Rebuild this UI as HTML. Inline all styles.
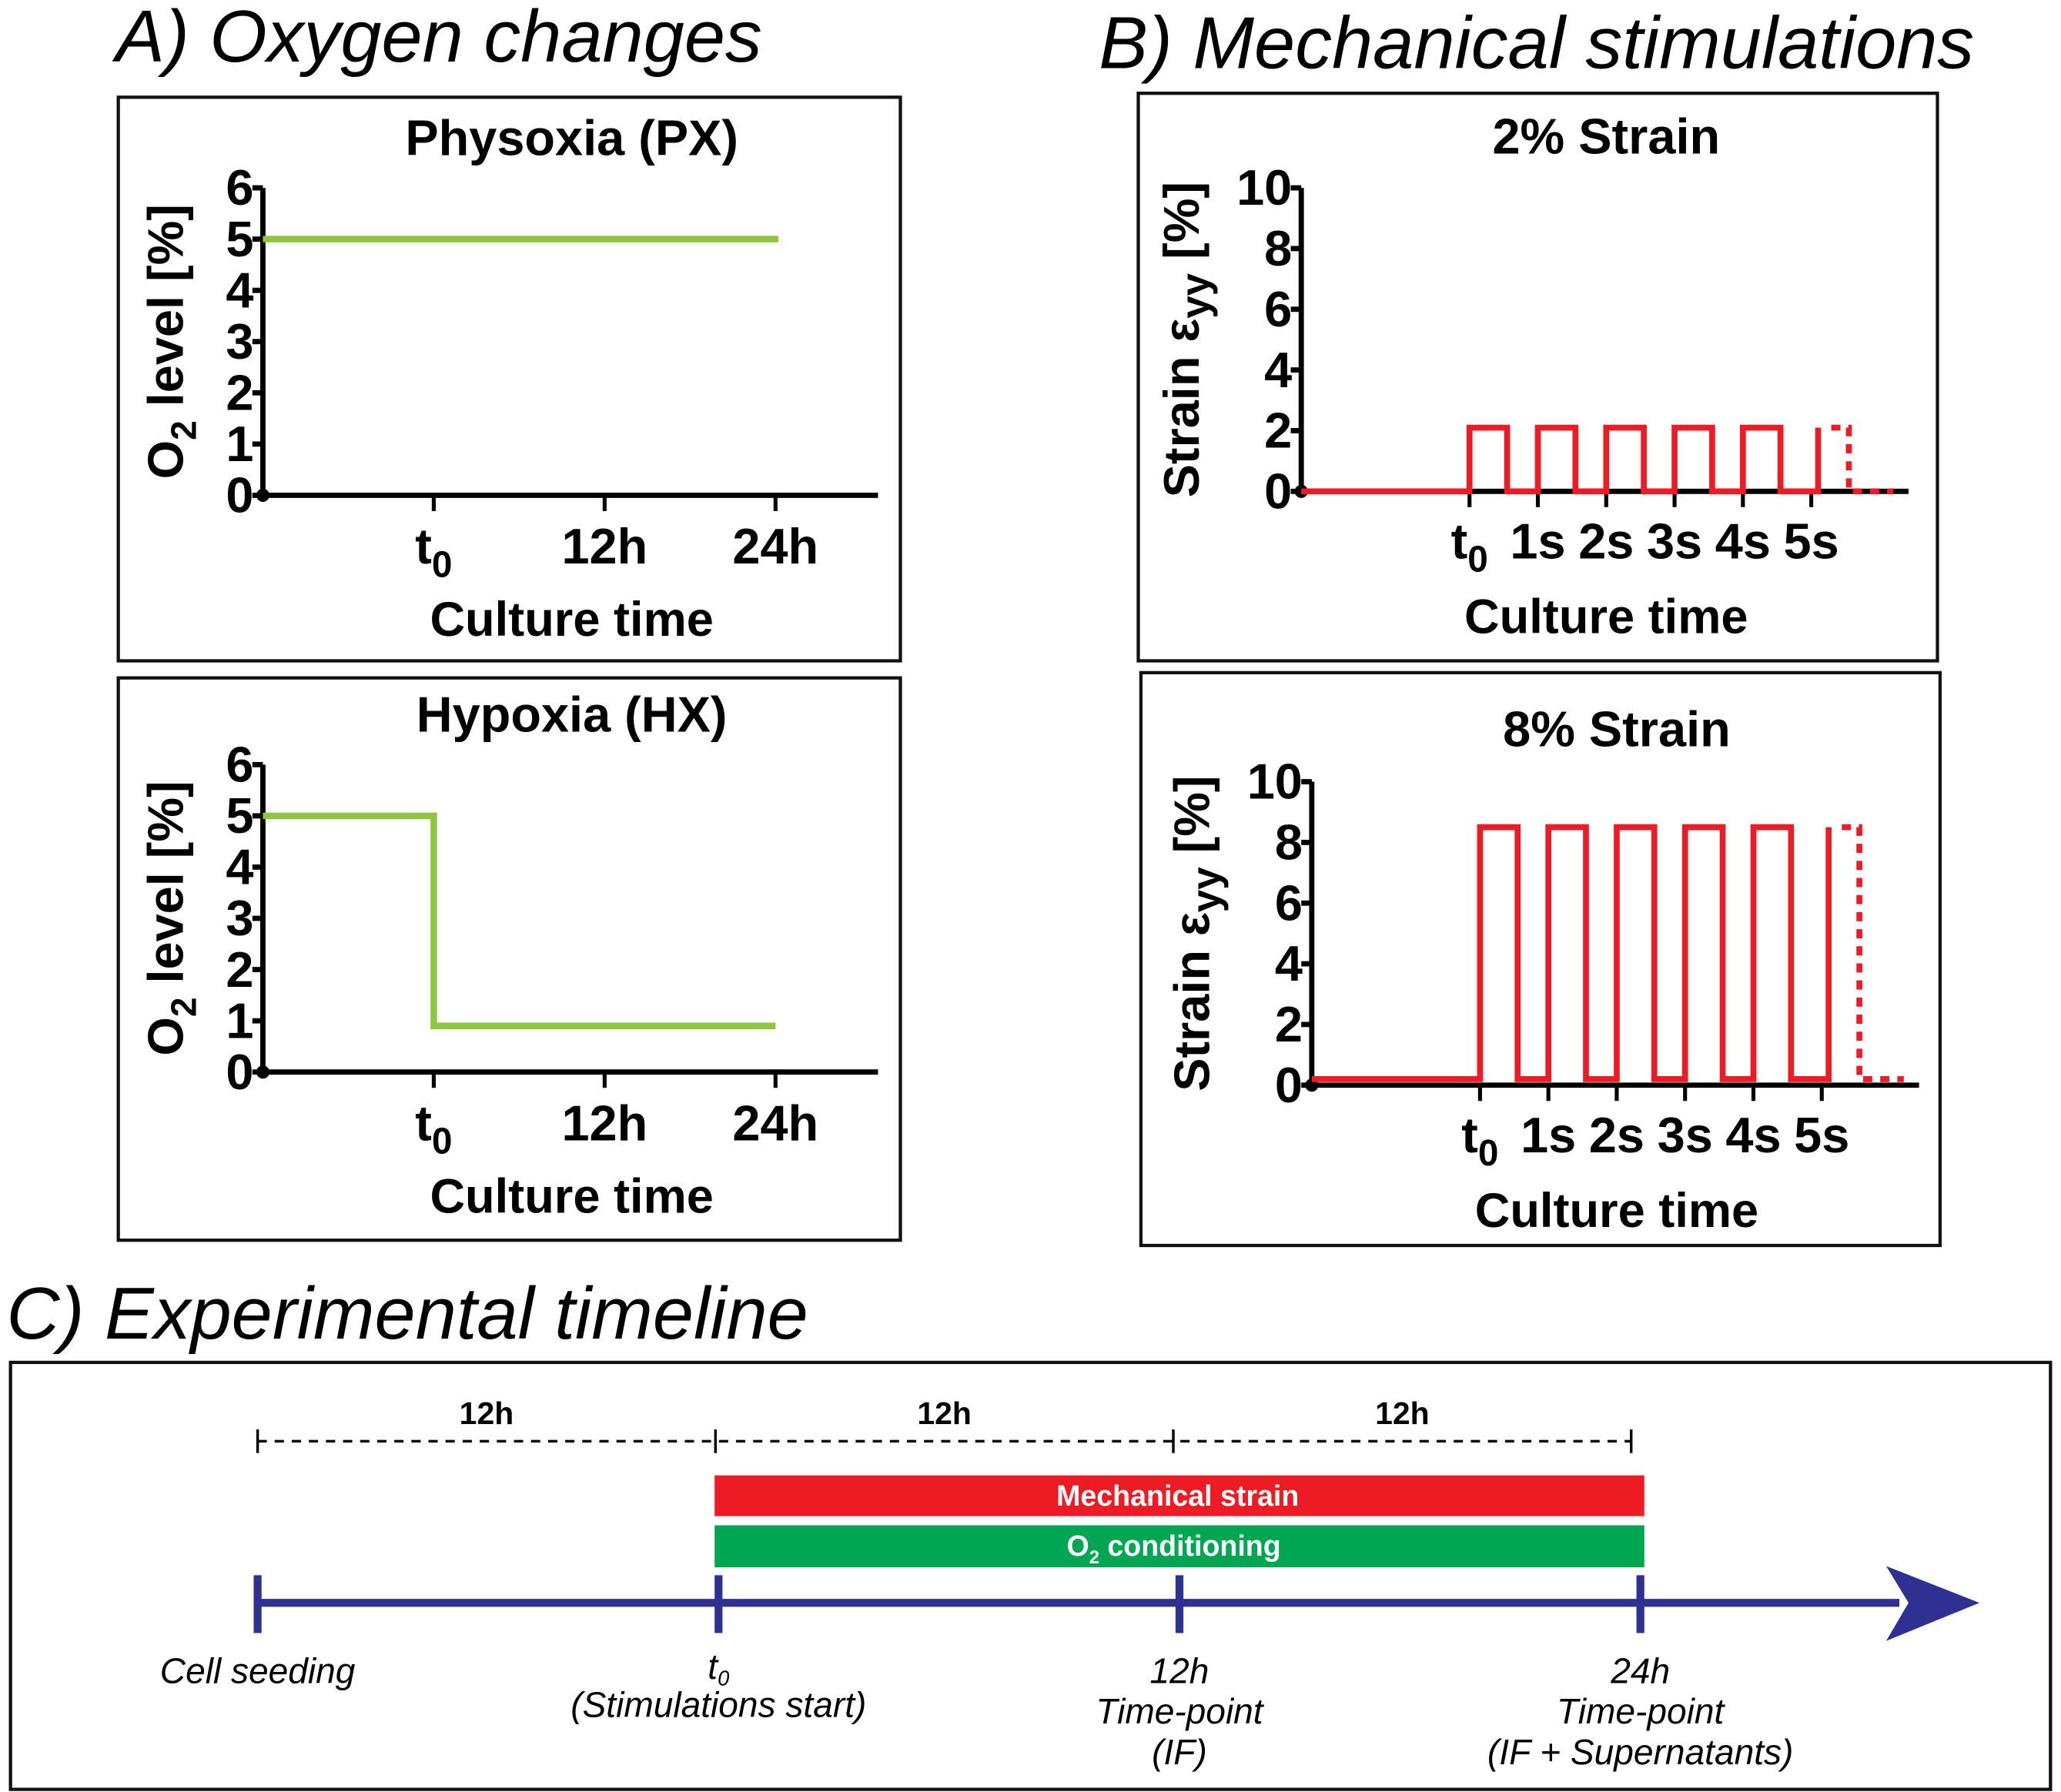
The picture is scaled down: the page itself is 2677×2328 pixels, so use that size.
<!DOCTYPE html>
<html><head><meta charset="utf-8">
<style>
html,body{margin:0;padding:0;background:#fff;}
svg{display:block;}
text{font-family:"Liberation Sans",sans-serif;}
.b{font-weight:bold;}
.n{font-family:"Liberation Sans Narrow","Liberation Sans",sans-serif;font-weight:bold;}
.i{font-style:italic;}
</style></head>
<body>
<svg id="fig" width="2677" height="2328" viewBox="0 0 1568 1364" preserveAspectRatio="none" xmlns="http://www.w3.org/2000/svg">
<rect x="0" y="0" width="1568" height="1364" fill="#fff"/>
<text class="i" x="88" y="47" font-size="56">A) Oxygen changes</text>
<text class="i" x="836" y="52" font-size="56">B) Mechanical stimulations</text>
<text class="i" x="5" y="1019" font-size="56">C) Experimental timeline</text>

<rect x="90" y="74" width="595" height="429" fill="none" stroke="#111" stroke-width="2.5"/>
<rect x="90" y="516" width="595" height="428" fill="none" stroke="#111" stroke-width="2.5"/>
<rect x="866" y="71" width="608" height="432" fill="none" stroke="#111" stroke-width="2.5"/>
<rect x="868" y="512" width="608" height="436" fill="none" stroke="#111" stroke-width="2.5"/>
<rect x="8" y="1037" width="1552" height="325" fill="none" stroke="#111" stroke-width="2.5"/>
<g id="charts"></g>
<g id="timeline"></g>
</svg>
<script>
// ---- Oxygen data (hours relative to t0) ----
const o2TickLabels = ["0","1","2","3","4","5","6"];
const o2TimeLabels = ["t0","12h","24h"];
const o2TickHours = [0, 12, 24];
const pxTimes = [-12, 24.2];
const pxValues = [5, 5];
const hxTimes = [-12, 0, 0, 24];
const hxValues = [5, 5, 0.9, 0.9];
// ---- Strain data ----
const strainTickLabels = ["0","2","4","6","8","10"];
const strainTimeLabels = ["t0","1s","2s","3s","4s","5s"];
const pulseStarts = [0, 1, 2, 3, 4];
const pulseWidth = 0.55;
const lastRise = 5.1;
const dottedEnd = 5.55;
const tailEnd = 6.2;
const amp2 = 2.1;
const amp8 = 8.5;
const base8 = 0.2;
// ---- Timeline data ----
const tlHours = [-12, 0, 12, 24];
const spanLabels = ["12h","12h","12h"];

const NS = "http://www.w3.org/2000/svg";
const charts = document.getElementById('charts');
const tl = document.getElementById('timeline');
function mk(tag, attrs, parent, txt){
  const e = document.createElementNS(NS, tag);
  for (const k in attrs) e.setAttribute(k, attrs[k]);
  if (txt !== undefined) e.textContent = txt;
  parent.appendChild(e);
  return e;
}
function scale(d0,d1,r0,r1){return v => r0 + (v-d0)/(d1-d0)*(r1-r0);}

function axes(g, cfg){
  const ax = mk('line',{x1:cfg.x0,y1:cfg.y(0),x2:cfg.x0,y2:cfg.y(cfg.ymax),stroke:'#000','stroke-width':4},g);
  
  
  const xa = mk('line',{x1:cfg.x0,y1:cfg.y(0),x2:cfg.xend,y2:cfg.y(0),stroke:'#000','stroke-width':4},g);
  
  
  const dot = mk('circle',{cx:cfg.x0,cy:cfg.y(0),r:5,fill:'#000'},g);
  
  
  cfg.yTicks.forEach((lab)=>{
    const v = parseFloat(lab), yy = cfg.y(v);
    const t = mk('line',{x1:cfg.x0-8,y1:yy,x2:cfg.x0,y2:yy,stroke:'#000','stroke-width':4},g);
    
    
    const l = mk('text',{x:cfg.x0-7,y:yy+13,'text-anchor':'end','font-size':38,class:'n'},g,lab);
    
    
  });
  cfg.xLabels.forEach((lab,i)=>{
    const xx = cfg.xt(i);
    const t = mk('line',{x1:xx,y1:cfg.y(0),x2:xx,y2:cfg.y(0)+12,stroke:'#000','stroke-width':3},g);
    
    
    let l;
    if (lab === 't0'){
      l = mk('text',{x:xx,y:cfg.xly,'text-anchor':'middle','font-size':38,class:'n'},g);
      mk('tspan',{},l,'t');
      mk('tspan',{dy:10,'font-size':28},l,'0');
    } else l = mk('text',{x:xx,y:cfg.xly,'text-anchor':'middle','font-size':38,class:'n'},g,lab);
    
    
  });
  const xt = mk('text',{x:cfg.cx,y:cfg.xtitleY,'text-anchor':'middle','font-size':37,class:'b'},g,'Culture time');
  
  
  const tt = mk('text',{x:cfg.cx,y:cfg.titleY,'text-anchor':'middle','font-size':38,class:'b'},g,cfg.title);
  
  
  const yt = mk('text',{transform:`translate(${cfg.ytX},${cfg.ytY}) rotate(-90)`,'text-anchor':'middle','font-size':38,class:'b'},g);
  
  
  cfg.ytParts.forEach(p=>{ mk('tspan',p.a||{},yt,p.t); });
}

function o2Chart(name, top, times, vals, title){
  const g = mk('g',{},charts);
  
  
  const y0 = 377 + top, y6 = 143 + top;
  const y = scale(0,6,y0,y6);
  const x = scale(-12,24,200,590);
  axes(g,{x0:200,xend:668,y:y,ymax:6,yTicks:o2TickLabels,xLabels:o2TimeLabels,
    xt:i=>x(o2TickHours[i]),xly:y0+52,cx:435,xtitleY:y0+107,titleY:top+118,title:title,
    ytX:139,ytY:y(3),ytParts:[{t:'O'},{t:'2',a:{'font-size':27,dy:10}},{t:' level [%]',a:{dy:-10}}]});
  let d='';
  times.forEach((t,i)=>{ d += (i?'L':'M') + x(t) + ' ' + y(vals[i]) + ' '; });
  const p = mk('path',{d:d,fill:'none',stroke:'#8dc63f','stroke-width':5},g);
  
  
}
o2Chart('physoxia-chart',0,pxTimes,pxValues,'Physoxia (PX)');
o2Chart('hypoxia-chart',439,hxTimes,hxValues,'Hypoxia (HX)');

function strainChart(name, x0, y0, amp, base, title, titleY){
  const g = mk('g',{},charts);
  
  
  const y = scale(0,10,y0,y0-231);
  const t0x = x0+128;
  const x = scale(0,1,t0x,t0x+52);
  axes(g,{x0:x0,xend:x0+462,y:y,ymax:10,yTicks:strainTickLabels,xLabels:strainTimeLabels,
    xt:i=>x(i),xly:y0+51,cx:x0+232,xtitleY:y0+108,titleY:titleY,title:title,
    ytX:x0-78,ytY:y(5),ytParts:[{t:'Strain ε'},{t:'yy',a:{'font-size':31,dy:8}},{t:' [%]',a:{dy:-8}}]});
  let d = `M${x0} ${y(base)} L${x(0)} ${y(base)} `;
  pulseStarts.forEach(s=>{
    d += `L${x(s)} ${y(base)} L${x(s)} ${y(amp)} L${x(s+pulseWidth)} ${y(amp)} L${x(s+pulseWidth)} ${y(base)} `;
  });
  d += `L${x(lastRise)} ${y(base)} L${x(lastRise)} ${y(amp)}`;
  const p = mk('path',{d:d,fill:'none',stroke:'#ed1c24','stroke-width':4.5},g);
  
  
  const dd = `M${x(lastRise)+10} ${y(amp)} L${x(dottedEnd)} ${y(amp)} L${x(dottedEnd)} ${y(base)} L${x(tailEnd)} ${y(base)}`;
  const q = mk('path',{d:dd,fill:'none',stroke:'#ed1c24','stroke-width':4.5,'stroke-dasharray':'7 6'},g);
  
  
}
strainChart('strain-2pct-chart',990,374,amp2,0,'2% Strain',117);
strainChart('strain-8pct-chart',998,826,amp8,base8,'8% Strain',568);

// ---- Timeline ----
const tx = scale(-12,24,196,1248);
const ex = scale(-12,24,196,1241);
const dl = mk('line',{x1:ex(-12),y1:1097,x2:ex(24),y2:1097,stroke:'#000','stroke-width':2,'stroke-dasharray':'7 6'},tl);


tlHours.forEach(h=>{
  const t = mk('line',{x1:ex(h),y1:1088,x2:ex(h),y2:1106,stroke:'#000','stroke-width':2},tl);
  
  
});
spanLabels.forEach((s,i)=>{
  const l = mk('text',{x:(ex(tlHours[i])+ex(tlHours[i+1]))/2,y:1084,'text-anchor':'middle','font-size':24,class:'n'},tl,s);
  
  
});
const rb = mk('rect',{x:tx(0)-3,y:1123,width:tx(24)-tx(0)+6,height:31,fill:'#ed1c24'},tl);


const rl = mk('text',{x:896,y:1146,'text-anchor':'middle','font-size':22,fill:'#fff',class:'b'},tl,'Mechanical strain');


const gb = mk('rect',{x:tx(0)-3,y:1161,width:tx(24)-tx(0)+6,height:32,fill:'#00a651'},tl);


const gl = mk('text',{x:893,y:1184,'text-anchor':'middle','font-size':22,fill:'#fff',class:'b'},tl);


mk('tspan',{},gl,'O');
mk('tspan',{'font-size':14,dy:6},gl,'2');
mk('tspan',{dy:-6},gl,' conditioning');
const bl = mk('line',{x1:tx(-12),y1:1220,x2:1445,y2:1220,stroke:'#2e3192','stroke-width':6},tl);


const ah = mk('polygon',{points:'1435,1192 1506,1220 1435,1249 1452,1220',fill:'#2e3192'},tl);


tlHours.forEach(h=>{
  const t = mk('line',{x1:tx(h),y1:1199,x2:tx(h),y2:1243,stroke:'#2e3192','stroke-width':6},tl);
  
  
});
const tlLabels = [
  [["Cell seeding",1281]],
  [["t",1278,true],["(Stimulations start)",1307]],
  [["12h",1281],["Time-point",1312],["(IF)",1343]],
  [["24h",1281],["Time-point",1312],["(IF + Supernatants)",1343]]
];
tlLabels.forEach((lines,i)=>{
  lines.forEach(([s,yy,sub])=>{
    const l = mk('text',{x:tx(tlHours[i]),y:yy,'text-anchor':'middle','font-size':27,class:'i'},tl,s);
    if (sub) mk('tspan',{'font-size':16,dy:5},l,'0');
    
    
  });
});
</script>
</body></html>
